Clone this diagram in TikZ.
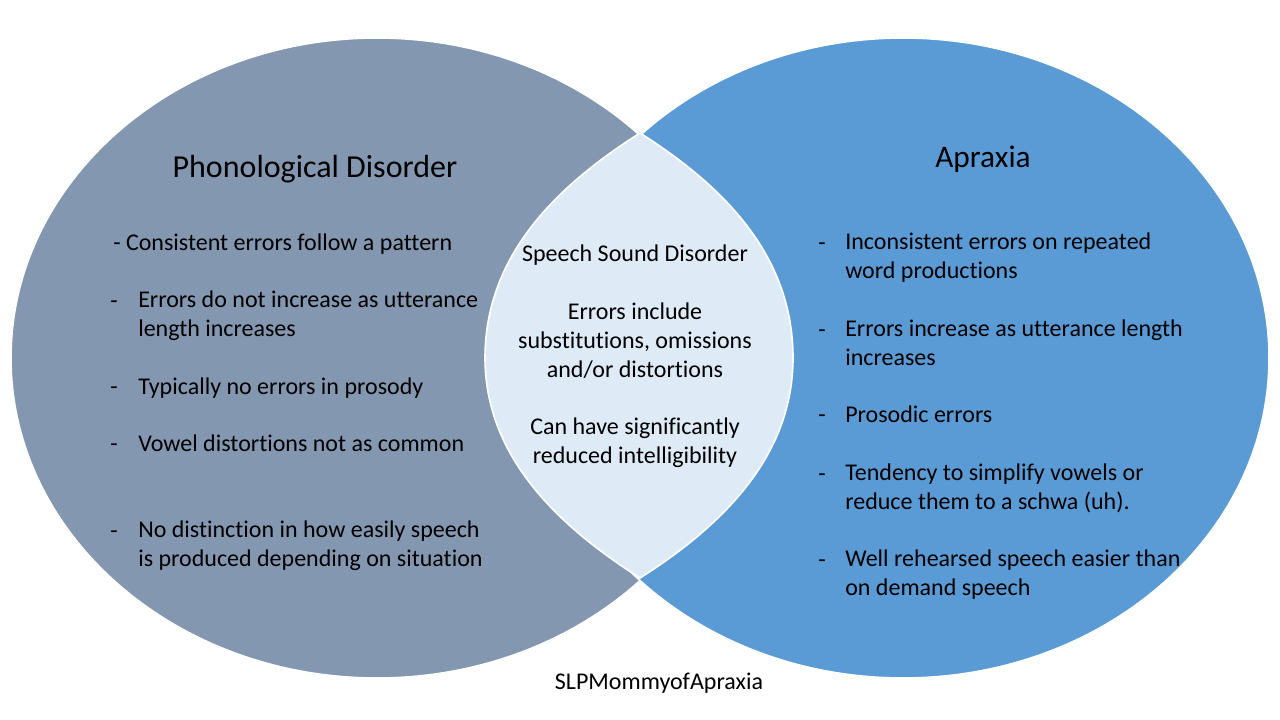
\documentclass[tikz,border=0pt]{standalone}
\usepackage{fontspec}
\setmainfont{Carlito}[Ligatures=NoCommon]
\usetikzlibrary{shapes.geometric}
\usetikzlibrary{positioning}

\definecolor{phonogrey}{HTML}{8497B0}
\definecolor{apraxblue}{HTML}{5B9BD5}
\definecolor{lensblue}{HTML}{DEEBF7}

\begin{document}
\begin{tikzpicture}[x=0.75pt, y=-0.75pt,
		set/.style={ellipse, draw=white, line width=1.2pt, inner sep=0pt, minimum width=549pt, minimum height=480pt},
		heading/.style={font=\fontsize{23.5}{28}\selectfont, inner sep=0pt, anchor=base},
		item/.style={font=\fontsize{18}{21.4}\selectfont, align=left, inner sep=0pt, anchor=base west},
		hyphen/.style={font=\fontsize{18}{21.4}\selectfont, inner sep=0pt, anchor=base west},
		middle/.style={font=\fontsize{18}{21.4}\selectfont, align=center, inner sep=0pt, anchor=base}]
			\useasboundingbox (0,0) rectangle (1280,720);
			\fill[white] (0,0) rectangle (1280,720);

			\node[set, fill=phonogrey] (Phono) at (377,358) {};
			\node[set, fill=apraxblue] (Apraxia) at (903,358) {};

			% overlap
			\coordinate (LensTop) at (640,133);
			\coordinate (LensLeft) at (485,358);
			\coordinate (LensBottom) at (640,578);
			\coordinate (LensRight) at (793,358);
			\draw[fill=lensblue, draw=white, line width=1.2pt] (LensTop)
				.. controls (550,190) and (485,260) .. (LensLeft)
				.. controls (485,451) and (550,521) .. (LensBottom)
				.. controls (730,521) and (793,451) .. (LensRight)
				.. controls (793,260) and (730,190) .. (LensTop) -- cycle;

			% base anchor of a wrapped text sits on its last line
			\node[heading, font=\fontsize{24}{28}\selectfont] (PhonoTitle) at (315,178) {Phonological Disorder};
			\node[heading] (ApraxiaTitle) at (983,168) {Apraxia};

			\node[item] (PhonoA) at (113,250) {- Consistent errors follow a pattern};
			\node[hyphen] (PhonoDashB) at (110,308) {-};
			\node[item] (PhonoB) at (138,336.5) {Errors do not increase as utterance\\length increases};
			\node[hyphen] (PhonoDashC) at (110,394) {-};
			\node[item] (PhonoC) at (138,394) {Typically no errors in prosody};
			\node[hyphen] (PhonoDashD) at (110,451) {-};
			\node[item] (PhonoD) at (138,451) {Vowel distortions not as common};
			\node[hyphen] (PhonoDashE) at (110,538) {-};
			\node[item] (PhonoE) at (138,566.5) {No distinction in how easily speech\\is produced depending on situation};

			\node[middle] (SharedA) at (635,262) {Speech Sound Disorder};
			\node[middle] (SharedB) at (635,377) {Errors include\\substitutions, omissions\\and/or distortions};
			\node[middle] (SharedC) at (635,463.5) {Can have significantly\\reduced intelligibility};

			\node[hyphen] (ApraxiaDashA) at (818,250) {-};
			\node[item] (ApraxiaA) at (845,278.5) {Inconsistent errors on repeated\\word productions};
			\node[hyphen] (ApraxiaDashB) at (818,337) {-};
			\node[item] (ApraxiaB) at (845,365.5) {Errors increase as utterance length\\increases};
			\node[hyphen] (ApraxiaDashC) at (818,422) {-};
			\node[item] (ApraxiaC) at (845,422) {Prosodic errors};
			\node[hyphen] (ApraxiaDashD) at (818,481) {-};
			\node[item] (ApraxiaD) at (845,509.5) {Tendency to simplify vowels or\\reduce them to a schwa (uh).};
			\node[hyphen] (ApraxiaDashE) at (818,567) {-};
			\node[item] (ApraxiaE) at (845,595.5) {Well rehearsed speech easier than\\on demand speech};

			\node[middle] (Credit) at (659,689) {SLPMommyofApraxia};
		\end{tikzpicture}
\end{document}
